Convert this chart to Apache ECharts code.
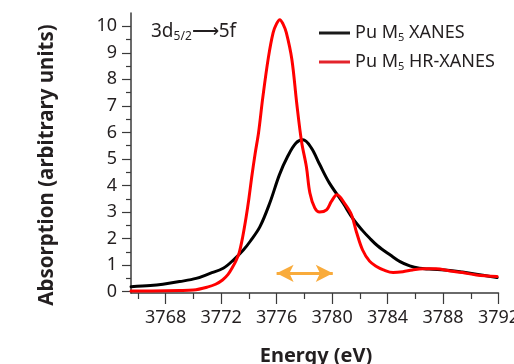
<!DOCTYPE html>
<html>
<head>
<meta charset="utf-8">
<script src="https://cdn.jsdelivr.net/npm/echarts@6/dist/echarts.min.js"></script>
<style>
html,body{margin:0;padding:0;background:#fff;}
#c{width:514px;height:364px;}
</style>
</head>
<body>
<div id="c"></div>
<script>
// Energy (eV) and absorption values
var xanesE = [3765.5,3766.9,3767.8,3769.0,3770.2,3771.2,3772.15,3772.9,3773.6,3774.1,3774.8,3775.5,3776.2,3776.8,3777.4,3777.9,3778.5,3779.1,3779.8,3780.8,3781.5,3782.2,3782.7,3783.3,3784.2,3784.9,3785.6,3786.3,3787.0,3788.5,3789.4,3790.4,3791.9];
var xanesA = [0.19,0.23,0.28,0.38,0.5,0.69,0.88,1.2,1.57,1.9,2.45,3.33,4.4,5.1,5.6,5.72,5.42,4.8,4.1,3.33,2.75,2.3,2.02,1.72,1.38,1.13,0.97,0.88,0.85,0.8,0.74,0.66,0.53];

var hrE = [3765.5,3767,3769,3770,3771,3771.6,3772.1,3772.5,3772.8,3773.1,3773.3,3773.55,3773.8,3774.0,3774.2,3774.45,3774.7,3775.0,3775.4,3775.75,3776.0,3776.23,3776.45,3776.7,3777.1,3777.45,3777.8,3778.15,3778.4,3778.75,3779.1,3779.6,3779.95,3780.35,3780.9,3781.4,3781.75,3782.2,3782.7,3783.2,3783.7,3784.4,3785.1,3785.8,3786.6,3787.5,3788.5,3789.4,3790.4,3791.9];
var hrA = [0.03,0.03,0.04,0.06,0.17,0.28,0.44,0.65,0.9,1.2,1.46,2.05,2.8,3.5,4.3,5.2,6.0,7.3,8.8,9.76,10.1,10.25,10.1,9.76,8.75,7.1,5.65,4.7,3.72,3.16,3.0,3.08,3.4,3.65,3.33,2.9,2.26,1.57,1.15,0.95,0.82,0.72,0.75,0.82,0.86,0.86,0.78,0.72,0.63,0.57];

var xLabels = [3768,3772,3776,3780,3784,3788,3792];
var xMinorTicks = [3766,3770,3774,3778,3782,3786,3790];
var yLabels = [0,1,2,3,4,5,6,7,8,9,10];
var yMinorTicks = [0.5,1.5,2.5,3.5,4.5,5.5,6.5,7.5,8.5,9.5];

// Resolution arrow (eV span, height)
var arrowE = [3776.0, 3780.05];
var arrowA = 0.69;

var seriesNames = ['Pu M{s|5} XANES', 'Pu M{s|5} HR-XANES'];

function pairs(xs, ys){ return xs.map(function(x,i){ return [x, ys[i]]; }); }

var FONT = 'Noto Sans';
var TXT = '#231f20';
var AX = '#3a3a3a';

var chart = echarts.init(document.getElementById('c'), null, {renderer:'canvas'});
var xBase = {type:'value', min:3765.5, max:3792, position:'bottom'};
var yBase = {type:'value', min:-0.05, max:10.5, position:'left'};

chart.setOption({
  animation:false,
  backgroundColor:'#fff',
  grid:{left:131, right:15.5, top:13, bottom:71, containLabel:false, outerBoundsMode:'none'},
  xAxis:[
    Object.assign({}, xBase, {
      axisLine:{show:true, onZero:false, lineStyle:{color:AX, width:1.5}},
      axisTick:{show:true, customValues:xLabels, length:11, lineStyle:{color:AX, width:1.2}},
      axisLabel:{show:true, customValues:xLabels, margin:16, color:TXT, fontSize:18, fontFamily:FONT,
        formatter:function(v){ return String(v); }},
      splitLine:{show:false}
    }),
    Object.assign({}, xBase, {
      axisLine:{show:false, onZero:false},
      axisTick:{show:true, customValues:xMinorTicks, length:6, lineStyle:{color:AX, width:1.2}},
      axisLabel:{show:false},
      splitLine:{show:false}
    })
  ],
  yAxis:[
    Object.assign({}, yBase, {
      axisLine:{show:true, onZero:false, lineStyle:{color:AX, width:1.5}},
      axisTick:{show:true, customValues:yLabels, length:9, lineStyle:{color:AX, width:1.2}},
      axisLabel:{show:true, customValues:yLabels, margin:14, color:TXT, fontSize:18, fontFamily:FONT},
      splitLine:{show:false}
    }),
    Object.assign({}, yBase, {
      axisLine:{show:false, onZero:false},
      axisTick:{show:true, customValues:yMinorTicks, length:5, lineStyle:{color:AX, width:1.2}},
      axisLabel:{show:false},
      splitLine:{show:false}
    })
  ],
  legend:{
    orient:'vertical', left:314, top:17, itemWidth:31, itemHeight:3, itemGap:7,
    icon:'rect',
    textStyle:{color:TXT, fontSize:18, fontFamily:FONT, lineHeight:22,
      rich:{s:{fontSize:11, fontFamily:FONT, color:TXT, padding:[9,0,0,0], lineHeight:22}}},
    data:[
      {name:seriesNames[0], itemStyle:{color:'#1a1a1a'}},
      {name:seriesNames[1], itemStyle:{color:'#e3242b'}}
    ]
  },
  series:[
    {
      name:seriesNames[0], type:'line', xAxisIndex:0, yAxisIndex:0,
      data:pairs(xanesE, xanesA), showSymbol:false, smooth:0.35,
      lineStyle:{color:'#000', width:3, join:'round', cap:'round'}, itemStyle:{color:'#000'}, z:3
    },
    {
      name:seriesNames[1], type:'line', xAxisIndex:0, yAxisIndex:0,
      data:pairs(hrE, hrA), showSymbol:false, smooth:0.35,
      lineStyle:{color:'#ff0000', width:3, join:'round', cap:'round'}, itemStyle:{color:'#ff0000'}, z:4,
      markLine:{
        silent:true, symbol:['arrow','arrow'], symbolSize:[13,17],
        label:{show:false},
        lineStyle:{color:'#f9ab3b', width:3, type:'solid'},
        data:[[{coord:[arrowE[0], arrowA]}, {coord:[arrowE[1], arrowA]}]]
      }
    }
  ],
  graphic:[
    {type:'text', left:151, top:22, style:{
      text:'3d{s|5/2}\u27f65f', fill:TXT, font:'19px "Noto Sans"',
      rich:{s:{fontSize:12, fontFamily:FONT, fill:TXT, padding:[10,0,0,0]}}
    }},
    {type:'text', x:47, y:165, rotation:Math.PI/2, style:{
      text:'Absorption (arbitrary units)', fill:TXT, font:'bold 20.5px "Noto Sans"',
      align:'center', verticalAlign:'middle'
    }},
    {type:'text', x:316, y:356, style:{
      text:'Energy (eV)', fill:TXT, font:'bold 20px "Noto Sans"',
      align:'center', verticalAlign:'middle'
    }}
  ]
});
</script>
</body>
</html>
